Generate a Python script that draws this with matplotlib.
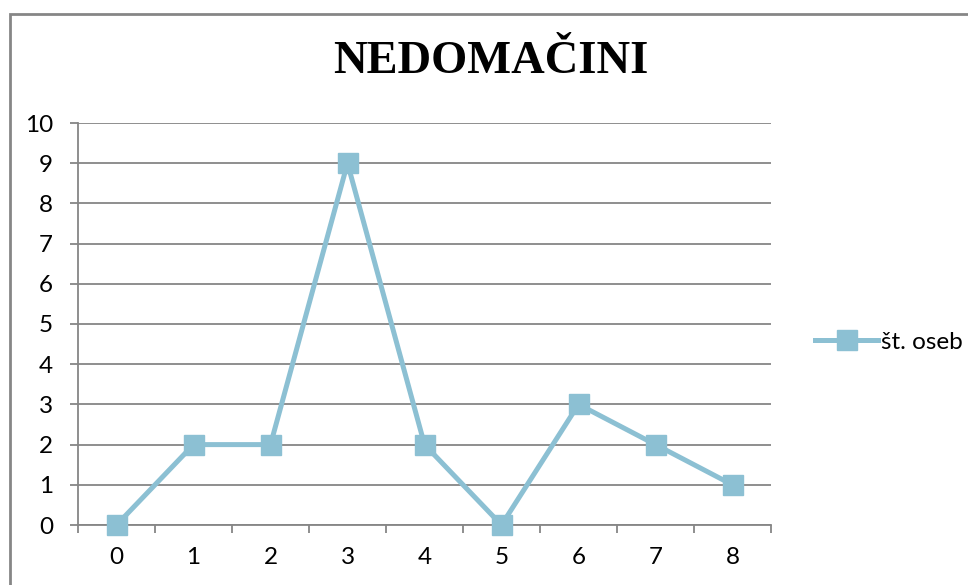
import matplotlib.pyplot as plt
from matplotlib.patches import Rectangle

# data
categories = [0, 1, 2, 3, 4, 5, 6, 7, 8]
st_oseb = [0, 2, 2, 9, 2, 0, 3, 2, 1]
y_ticks = list(range(0, 11))

line_color = "#8cc0d3"
grid_color = "#868686"
plt.rcParams["font.family"] = ["Lato", "DejaVu Sans"]

W, H = 968, 585
fig = plt.figure(figsize=(W / 100, H / 100), dpi=100)

# outer chart border (cut off on the right and bottom)
fig.patches.append(Rectangle((10 / W, -0.1), 1.1, 1 - 14 / H + 0.1, transform=fig.transFigure,
                             fill=False, edgecolor=grid_color, linewidth=2))

ax = fig.add_axes([78 / W, (H - 525) / H, (771 - 78) / W, (525 - 123) / H])
ax.plot(categories, st_oseb, color=line_color, linewidth=3.6, marker="s",
        markersize=14, markeredgecolor=line_color, label="št. oseb",
        clip_on=False, zorder=3)

ax.set_xlim(-0.5, 8.5)
ax.set_ylim(0, 10)
ax.set_yticks(y_ticks)
ax.set_xticks(categories)
ax.set_xticks([c - 0.5 for c in categories] + [8.5], minor=True)
ax.tick_params(axis="x", which="major", length=0, pad=16, labelsize=17.5)
ax.tick_params(axis="x", which="minor", length=6, width=1.3, color=grid_color, direction="out")
ax.tick_params(axis="y", length=6, width=1.3, color=grid_color, pad=12, labelsize=17.5)
ax.yaxis.grid(True, color=grid_color, linewidth=1.3)
ax.set_axisbelow(True)
for s in ["top", "right"]:
    ax.spines[s].set_visible(False)
for s in ["left", "bottom"]:
    ax.spines[s].set_color(grid_color)
    ax.spines[s].set_linewidth(1.3)

fig.text(491 / W, 1 - 62 / H, "NEDOMAČINI", ha="center", va="center",
         fontsize=33.5, fontweight="bold", family=["Liberation Serif", "DejaVu Serif"])

fig.legend(loc="center left", bbox_to_anchor=(803 / W, 1 - 342 / H), frameon=False,
           fontsize=17.5, handlelength=2.6, handletextpad=0.1, borderpad=0)

fig.savefig("out.png", dpi=100)
